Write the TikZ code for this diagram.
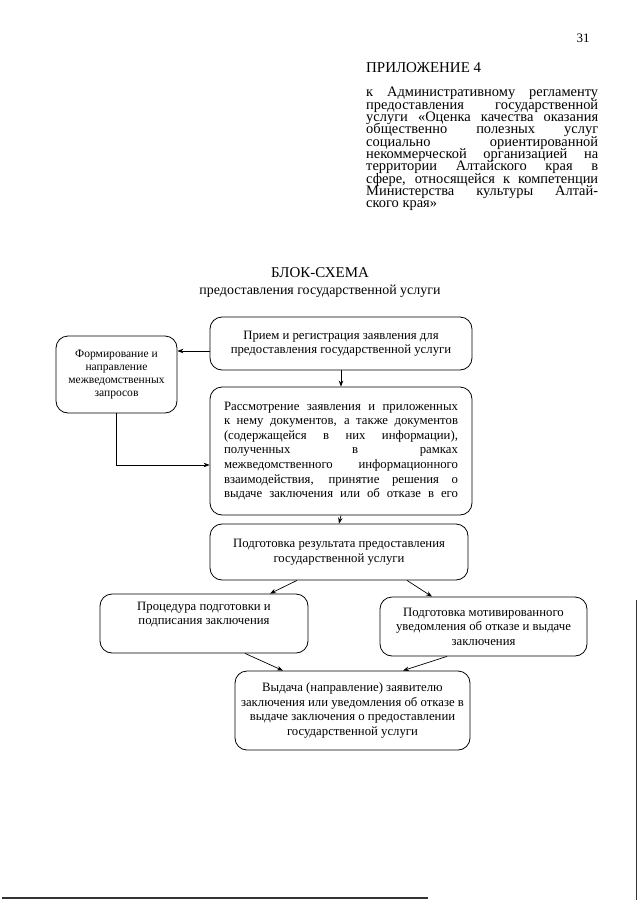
\documentclass[tikz,border=0pt]{standalone}
\usepackage{fontspec}
\setmainfont{Liberation Serif}
\usetikzlibrary{arrows.meta}
\newcommand{\jl}[2]{\makebox[#1][s]{#2}}
\newcommand{\tightpar}{\fontsize{14.5}{12.4}\selectfont\lineskiplimit=-20pt\relax\lineskip=0pt\relax}
\begin{document}
\begin{tikzpicture}[x=1bp,y=-1bp,
  box/.style={draw, rounded corners=12bp, line width=0.8bp, align=center, inner sep=2bp,
    font=\fontsize{12.8}{14.6}\selectfont},
  arr/.style={-{Stealth[length=6bp,width=4.5bp]}, line width=0.7bp},
  scan/.style={line width=1.3bp, black!80}]
\fill[white] (0,0) rectangle (640,905);
\useasboundingbox (0,0) rectangle (640,905);
% header
\node[font=\fontsize{13}{13}\selectfont] (pg) at (583,38) {31};
\node[anchor=west, font=\fontsize{15}{15}\selectfont, inner sep=0pt] (app) at (366,68) {ПРИЛОЖЕНИЕ 4};
\node[anchor=north west, inner sep=0pt, align=left, font=\tightpar] (par) at (366,87) {%
\jl{232bp}{к Административному регламенту}\\
\jl{232bp}{предоставления государственной}\\
\jl{232bp}{услуги «Оценка качества оказания}\\
\jl{232bp}{общественно полезных услуг}\\
\jl{232bp}{социально ориентированной}\\
\jl{232bp}{некоммерческой организацией на}\\
\jl{232bp}{территории Алтайского края в}\\
\jl{232bp}{сфере, относящейся к компетенции}\\
\jl{232bp}{Министерства культуры Алтай-}\\
ского края»};
% title
\node[font=\fontsize{15}{15}\selectfont] (t1) at (320,273) {БЛОК-СХЕМА};
\node[font=\fontsize{14}{14}\selectfont] (t2) at (320,291) {предоставления государственной услуги};
% boxes
\node[box, minimum width=262bp, minimum height=53bp] (b1) at (341,343.5)
  {Прием и регистрация заявления для\\предоставления государственной услуги};
\node[box, minimum width=121bp, minimum height=77bp, font=\fontsize{11.6}{13.2}\selectfont] (b2) at (116.5,374.5)
  {Формирование и\\направление\\межведомственных\\запросов};
\node[box, minimum width=262bp, minimum height=128bp, align=left] (b3) at (341,451)
  {\jl{234bp}{Рассмотрение заявления и приложенных}\\
   \jl{234bp}{к нему документов, а также документов}\\
   \jl{234bp}{(содержащейся в них информации),}\\
   \jl{234bp}{полученных в рамках}\\
   \jl{234bp}{межведомственного информационного}\\
   \jl{234bp}{взаимодействия, принятие решения о}\\
   \jl{234bp}{выдаче заключения или об отказе в его}};
\node[box, minimum width=258bp, minimum height=56bp] (b4) at (339,552)
  {Подготовка результата предоставления\\государственной услуги};
\node[box, minimum width=208bp, minimum height=59bp] (b5) at (204,623.5)
  {Процедура подготовки и\\подписания заключения\\[6bp]};
\node[box, minimum width=207bp, minimum height=59bp] (b6) at (483.5,626.5)
  {Подготовка мотивированного\\уведомления об отказе и выдаче\\заключения};
\node[box, minimum width=235bp, minimum height=79bp] (b7) at (352.5,710.5)
  {Выдача (направление) заявителю\\заключения или уведомления об отказе в\\выдаче заключения о предоставлении\\государственной услуги};
% connectors
\draw[arr] ([yshift=-7.5bp]b1.west) -- ([yshift=-7.5bp]b1.west -| b2.east);
\draw[arr] (b1.south) -- (b3.north);
\draw[arr] (b2.south) |- ([yshift=-14bp]b3.west);
\draw[arr] (b3.south) -- (b4.north);
\draw[arr] ([xshift=-42bp]b4.south) -- ([xshift=66bp]b5.north);
\draw[arr] ([xshift=68bp]b4.south) -- ([xshift=-51.5bp]b6.north);
\draw[arr] ([xshift=41bp]b5.south) -- ([xshift=-69.5bp]b7.north);
\draw[arr] ([xshift=-36.5bp]b6.south) -- ([xshift=50.5bp]b7.north);
% scan edges
\coordinate (s1) at (2,898);
\coordinate (s2) at (428,898);
\coordinate (s3) at (636,600);
\coordinate (s4) at (636,900);
\draw[scan] (s1) -- (s2);
\draw[scan, line width=1bp] (s3) -- (s4);
\end{tikzpicture}
\end{document}
